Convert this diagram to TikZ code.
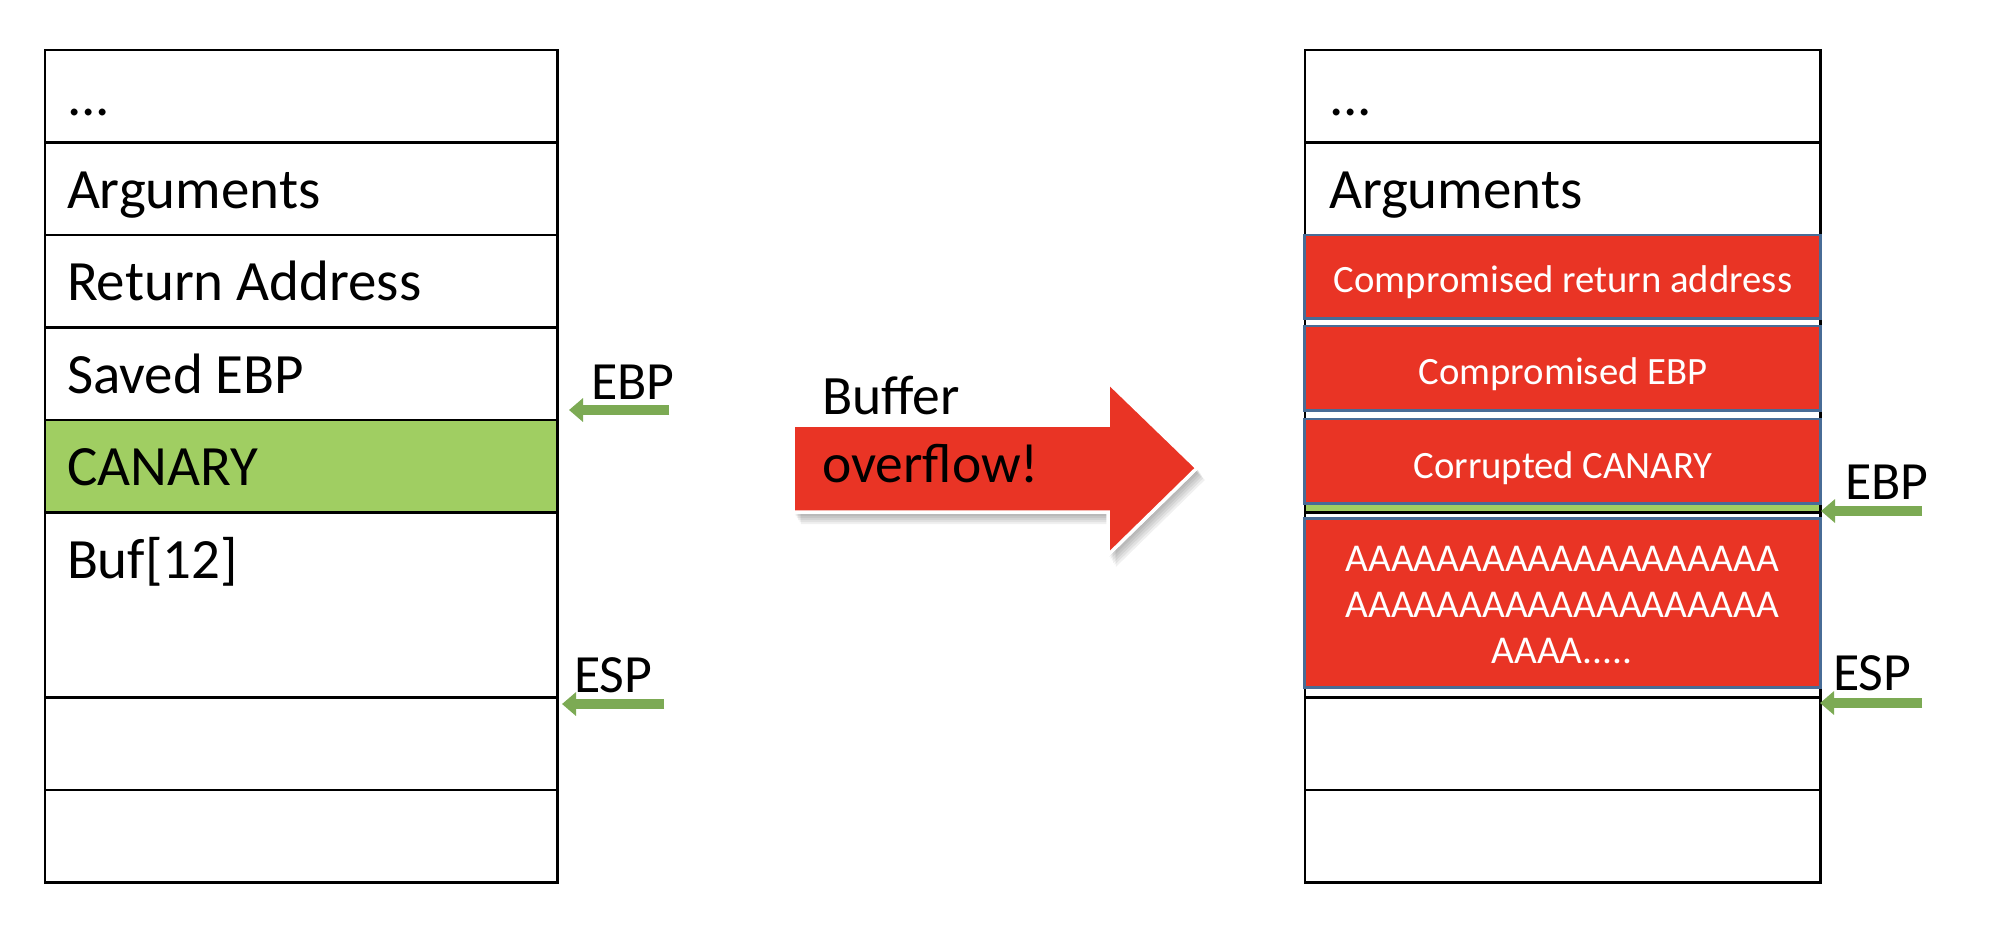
\documentclass[tikz,border=0pt]{standalone}
\usepackage{fontspec}
\setmainfont{Carlito}
\usetikzlibrary{arrows.meta}
\definecolor{canary}{RGB}{160,206,98}
\definecolor{ovred}{RGB}{233,52,37}
\definecolor{boxedge}{RGB}{72,108,150}
\definecolor{ptrgreen}{RGB}{124,170,84}
\newcommand\ovarrowpath[1]{\fill[#1] (793,425) -- (1108,425) -- (1108,382) -- (1197,468) -- (1108,555) -- (1108,512) -- (793,512) -- cycle;}
\begin{document}
\begin{tikzpicture}[x=0.01cm,y=-0.01cm,
  cellL/.style={draw=black, line width=0.8pt, rectangle, inner sep=0pt, outer sep=0pt,
    anchor=north west, minimum width=5.12cm, minimum height=0.925cm},
  cellR/.style={cellL, minimum width=5.15cm},
  lbl/.style={inner sep=0pt, outer sep=0pt, anchor=base west, font=\fontsize{16.2pt}{19pt}\selectfont},
  reglbl/.style={lbl, font=\fontsize{15.3pt}{18pt}\selectfont},
  rbox/.style={draw=boxedge, fill=ovred, line width=0.85pt, rectangle, inner sep=0pt, outer sep=0pt,
    minimum width=5.15cm},
  wtxt/.style={inner sep=0pt, outer sep=0pt, anchor=base, text=white, font=\fontsize{11pt}{13.1pt}\selectfont},
  ptr/.style={draw=ptrgreen, line width=3.1pt, -{Triangle[length=0.14cm,width=0.23cm]}}
]
\useasboundingbox[fill=white] (0,0) rectangle (2004,944);

% ---------- left stack ----------
\node[cellL] (l1) at (45,50) {};
\node[cellL] (l2) at (45,142.5) {};
\node[cellL] (l3) at (45,235) {};
\node[cellL] (l4) at (45,327.5) {};
\node[cellL, fill=canary] (l5) at (45,420) {};
\node[cellL, minimum height=1.85cm] (l6) at (45,512.5) {};
\node[cellL] (l7) at (45,697.5) {};
\node[cellL] (l8) at (45,790) {};

\node[lbl] (tl1) at (67,115) {...};
\node[lbl] (tl2) at (67,208) {Arguments};
\node[lbl] (tl3) at (67,300.5) {Return Address};
\node[lbl] (tl4) at (67,393) {Saved EBP};
\node[lbl] (tl5) at (67,485.5) {CANARY};
\node[lbl] (tl6) at (67,578) {Buf[12]};

% pointers left
\coordinate (lebpTip) at (569,410);
\coordinate (lebpTail) at (669,410);
\coordinate (lespTip) at (562,704);
\coordinate (lespTail) at (664,704);
\draw[ptr] (lebpTail) -- (lebpTip);
\draw[ptr] (lespTail) -- (lespTip);
\node[reglbl] (lebp) at (591,399) {EBP};
\node[reglbl] (lesp) at (574,692) {ESP};

% ---------- big arrow ----------
\foreach \i in {1,...,6}{
  \begin{scope}[shift={(\i*1.3,\i*2.0)}]
    \ovarrowpath{black, opacity=0.06}
  \end{scope}
}
\ovarrowpath{ovred}
\draw[white, line width=1pt, line join=miter] (793,425) -- (1108,425) -- (1108,382) -- (1197,468) -- (1108,555) -- (1108,512) -- (793,512) -- cycle;
\node[lbl, font=\fontsize{15.8pt}{19pt}\selectfont] (buf1) at (822,414) {Buffer};
\node[lbl, font=\fontsize{15.8pt}{19pt}\selectfont] (buf2) at (822,482) {overflow!};

% ---------- right stack ----------
\node[cellR] (r1) at (1305,50) {};
\node[cellR] (r2) at (1305,142.5) {};
\node[cellR] (r3) at (1305,235) {};
\node[cellR] (r4) at (1305,327.5) {};
\node[cellR, fill=canary] (r5) at (1305,420) {};
\node[cellR, minimum height=1.85cm] (r6) at (1305,512.5) {};
\node[cellR] (r7) at (1305,697.5) {};
\node[cellR] (r8) at (1305,790) {};

\node[lbl] (tr1) at (1329,115) {...};
\node[lbl] (tr2) at (1329,208) {Arguments};

\node[rbox, minimum height=0.83cm] (x1) at (1562.5,276.5) {};
\node[rbox, minimum height=0.845cm] (x2) at (1562.5,368.25) {};
\node[rbox, minimum height=0.845cm] (x3) at (1562.5,461.25) {};
\node[rbox, minimum height=1.68cm] (x4) at (1562.5,603) {};

\node[wtxt] (tx1) at (1563,292) {Compromised return address};
\node[wtxt] (tx2) at (1563,384) {Compromised EBP};
\node[wtxt] (tx3) at (1563,478) {Corrupted CANARY};
\node[inner sep=0pt, outer sep=0pt, anchor=center, align=center, text=white,
      font=\fontsize{11.2pt}{13.1pt}\selectfont] (tx4) at (1562,604.7)
  {AAAAAAAAAAAAAAAAAAA\\AAAAAAAAAAAAAAAAAAA\\AAAA.....};

% pointers right
\coordinate (rebpTip) at (1821,511);
\coordinate (rebpTail) at (1922,511);
\coordinate (respTip) at (1820,703);
\coordinate (respTail) at (1922,703);
\draw[ptr] (rebpTail) -- (rebpTip);
\draw[ptr] (respTail) -- (respTip);
\node[reglbl] (rebp) at (1845,499) {EBP};
\node[reglbl] (resp) at (1833,690) {ESP};
\end{tikzpicture}
\end{document}
